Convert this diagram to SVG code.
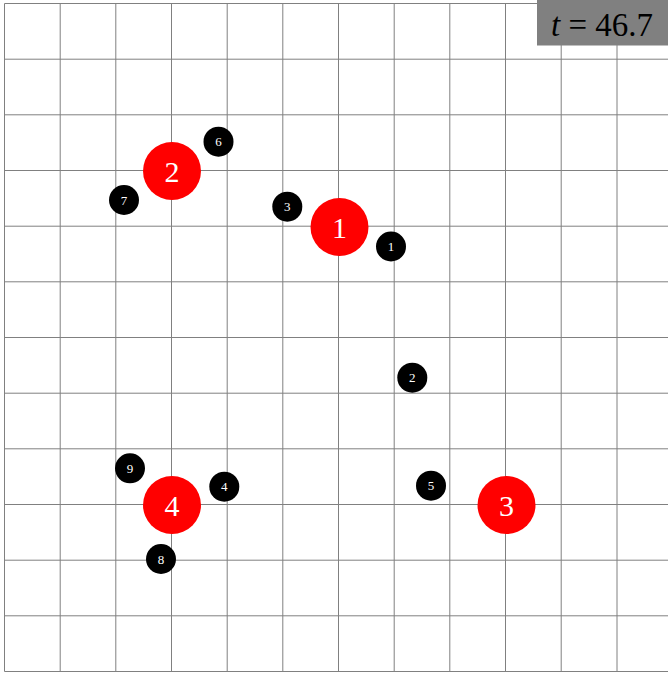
<svg xmlns="http://www.w3.org/2000/svg" width="668" height="673" viewBox="0 0 668 673">
<style>
.g{stroke:#808080;stroke-width:1;fill:none}
.big{fill:#ff0000}
.small{fill:#000}
.bt{font-family:"Liberation Serif","DejaVu Serif",serif;font-size:30px;fill:#fff;text-anchor:middle}
.st{font-family:"Liberation Serif","DejaVu Serif",serif;font-size:13px;fill:#fff;text-anchor:middle}
</style>
<rect width="668" height="673" fill="#fff"/>
<g id="grid" class="g">
<path d="M4.5 3.5V671.5M60.2 3.5V671.5M115.8 3.5V671.5M171.5 3.5V671.5M227.2 3.5V671.5M282.8 3.5V671.5M338.5 3.5V671.5M394.2 3.5V671.5M449.8 3.5V671.5M505.5 3.5V671.5M561.2 3.5V671.5M617 3.5V671.5"/>
<path d="M4.5 3.5H668M4.5 59.2H668M4.5 114.8H668M4.5 170.5H668M4.5 226.2H668M4.5 281.8H668M4.5 337.5H668M4.5 393.2H668M4.5 448.8H668M4.5 504.5H668M4.5 560.2H668M4.5 615.8H668M4.5 671.5H668"/>
</g>
<g id="connectors"></g>
<g id="big2"><circle class="big" cx="172" cy="171" r="29"/><text class="bt" x="172" y="181.5">2</text></g>
<g id="big1"><circle class="big" cx="339.5" cy="227" r="29"/><text class="bt" x="339.5" y="237.5">1</text></g>
<g id="big3"><circle class="big" cx="506.5" cy="505" r="29"/><text class="bt" x="506.5" y="515.5">3</text></g>
<g id="big4"><circle class="big" cx="172" cy="505" r="29"/><text class="bt" x="172" y="515.5">4</text></g>
<g id="s1"><circle class="small" cx="391" cy="246.5" r="15"/><text class="st" x="391" y="251">1</text></g>
<g id="s2"><circle class="small" cx="412.3" cy="377.7" r="15"/><text class="st" x="412.3" y="382.2">2</text></g>
<g id="s3"><circle class="small" cx="287.3" cy="206.7" r="15"/><text class="st" x="287.3" y="211.2">3</text></g>
<g id="s4"><circle class="small" cx="224.3" cy="486.7" r="15"/><text class="st" x="224.3" y="491.2">4</text></g>
<g id="s5"><circle class="small" cx="431" cy="485.7" r="15"/><text class="st" x="431" y="490.2">5</text></g>
<g id="s6"><circle class="small" cx="218.5" cy="141.7" r="15"/><text class="st" x="218.5" y="146.2">6</text></g>
<g id="s7"><circle class="small" cx="124" cy="200" r="15"/><text class="st" x="124" y="204.5">7</text></g>
<g id="s8"><circle class="small" cx="161" cy="559" r="15"/><text class="st" x="161" y="563.5">8</text></g>
<g id="s9"><circle class="small" cx="130" cy="468.3" r="15"/><text class="st" x="130" y="472.8">9</text></g>
<g id="timebox"><rect x="537" y="0" width="131" height="45.5" fill="#808080"/><text x="602" y="36" font-family="Liberation Serif,DejaVu Serif,serif" font-size="33" fill="#000" text-anchor="middle"><tspan font-style="italic">t</tspan> = 46.7</text></g>
</svg>
